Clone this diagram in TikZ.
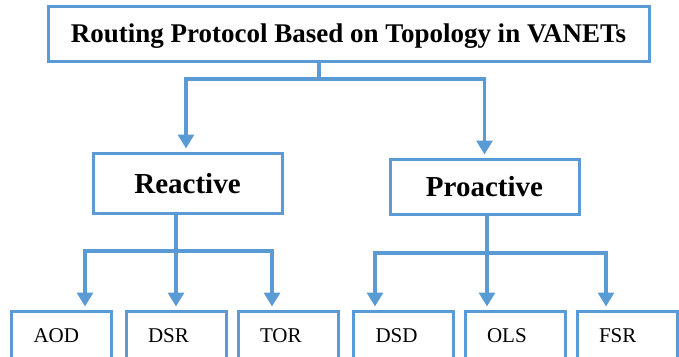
\documentclass[tikz,border=0pt]{standalone}
\usepackage{fontspec}
\setmainfont{Liberation Serif}
\usepackage{tikz}
\usetikzlibrary{arrows.meta}
\definecolor{lineblue}{HTML}{5B9BD5}
\tikzstyle{bluebox} = [rectangle, draw=lineblue, line width=3pt, fill=white, inner sep=0pt, text depth=0pt, font=\fontsize{29}{32}\selectfont\bfseries]
\tikzstyle{leafbox} = [rectangle, draw=lineblue, line width=3pt, minimum width=100pt, minimum height=50pt, text width=56pt, inner xsep=22pt, inner ysep=0pt, align=left, font=\fontsize{21}{24}\selectfont]
\tikzstyle{link} = [draw=lineblue, line width=3.2pt]
\tikzstyle{arrow} = [link, -{Triangle[width=16pt,length=14pt]}, shorten >=3pt]

\begin{document}
\begin{tikzpicture}[x=1pt, y=-1pt]
      \useasboundingbox (0,0) rectangle (679,356);

      \node (topology) [bluebox, minimum width=601pt, minimum height=55pt, font=\fontsize{27}{30}\selectfont\bfseries] at (348.5,33.5) {Routing Protocol Based on Topology in VANETs};
      \node (reactive) [bluebox, minimum width=189pt, minimum height=60pt] at (187.5,183) {Reactive};
      \node (proactive) [bluebox, minimum width=189pt, minimum height=55pt] at (484.5,186.5) {Proactive};

      \node (aod) [leafbox] at (61.5,336) {AOD};
      \node (dsr) [leafbox] at (176,336) {DSR};
      \node (tor) [leafbox] at (288,336) {TOR};
      \node (dsd) [leafbox] at (403.5,336) {DSD};
      \node (ols) [leafbox] at (515,336) {OLS};
      \node (fsr) [leafbox] at (627,336) {FSR};

      \coordinate (topsplit) at (319,79);
      \coordinate (reactsplit) at (176,251);
      \coordinate (reactleft) at (85,251);
      \coordinate (reactright) at (272,251);
      \coordinate (proactsplit) at (487,253);
      \coordinate (proactleft) at (375,253);
      \coordinate (proactright) at (606,253);

      \draw [link] (topology.south -| topsplit) -- (topsplit);
      \draw [arrow] (topsplit) -| ([xshift=-1.5pt]reactive.north);
      \draw [arrow] (topsplit) -| (proactive.north);

      \draw [link] (reactive.south -| reactsplit) -- (reactsplit);
      \draw [arrow] (reactsplit) -| (reactleft |- aod.north);
      \draw [arrow] (reactsplit) -- (dsr.north);
      \draw [arrow] (reactsplit) -| (reactright |- tor.north);

      \draw [link] (proactive.south -| proactsplit) -- (proactsplit);
      \draw [arrow] (proactsplit) -| (proactleft |- dsd.north);
      \draw [arrow] (proactsplit) -- (proactsplit |- ols.north);
      \draw [arrow] (proactsplit) -| (proactright |- fsr.north);
    \end{tikzpicture}
\end{document}
